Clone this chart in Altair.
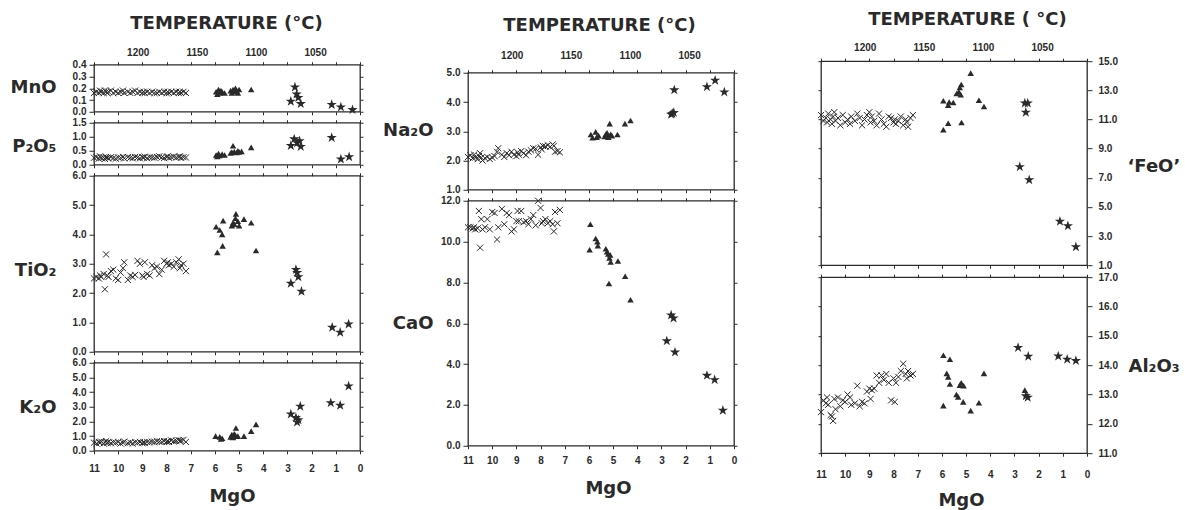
import altair as alt
import pandas as pd

FONT = "Liberation Sans"
TFONT = "DejaVu Sans"
INK = "#2a2a2a"
W = 266

CROSS_PATH = "M-1,-1L1,1M-1,1L1,-1"
STAR_PATH = ("M0,-1L0.225,-0.309L0.951,-0.309L0.363,0.118L0.588,0.809L0,0.382"
             "L-0.588,0.809L-0.363,0.118L-0.951,-0.309L-0.225,-0.309Z")

MGO_TICKS = [11, 10, 9, 8, 7, 6, 5, 4, 3, 2, 1, 0]
TEMP_LABELS = [1200, 1150, 1100, 1050]
TEMP_DOMAIN = [1237, 1012]

# MgO of the cross (x) samples, shared by all oxide panels
CROSS_MGO = [11.0, 10.9, 10.8, 10.75, 10.7, 10.6, 10.55, 10.5, 10.45, 10.4, 10.3, 10.2,
             10.1, 10.0, 9.9, 9.8, 9.75, 9.6, 9.5, 9.4, 9.3, 9.2, 9.1, 9.0, 8.95, 8.9,
             8.8, 8.7, 8.6, 8.5, 8.4, 8.3, 8.2, 8.1, 8.0, 7.95, 7.9, 7.8, 7.7, 7.6, 7.5,
             7.45, 7.4, 7.3, 7.2]

MNO_CROSS = [0.16, 0.17, 0.16, 0.18, 0.17, 0.16, 0.18, 0.17, 0.16, 0.17, 0.18, 0.16, 0.17,
             0.16, 0.17, 0.18, 0.16, 0.17, 0.16, 0.17, 0.18, 0.16, 0.17, 0.16, 0.17, 0.16,
             0.17, 0.16, 0.17, 0.16, 0.16, 0.17, 0.16, 0.17, 0.16, 0.17, 0.16, 0.17, 0.16,
             0.17, 0.16, 0.17, 0.16, 0.17, 0.16]
P2O5_CROSS = [0.25, 0.27, 0.22, 0.30, 0.24, 0.26, 0.21, 0.28, 0.25, 0.23, 0.27, 0.24, 0.22,
              0.26, 0.25, 0.28, 0.23, 0.27, 0.25, 0.24, 0.28, 0.26, 0.23, 0.27, 0.25, 0.29,
              0.24, 0.27, 0.26, 0.25, 0.28, 0.30, 0.26, 0.24, 0.28, 0.30, 0.25, 0.27, 0.29,
              0.26, 0.28, 0.30, 0.25, 0.27, 0.26]
TIO2_CROSS = [2.50, 2.55, 2.50, 2.60, 2.55, 2.65, 2.13, 3.32, 2.60, 2.55, 2.75, 2.80, 2.50,
              2.45, 2.70, 2.85, 3.05, 2.45, 2.60, 2.55, 2.62, 3.10, 3.00, 2.60, 2.55, 3.05,
              2.65, 2.60, 2.95, 2.85, 2.90, 2.65, 2.80, 3.10, 3.00, 3.05, 2.95, 3.00, 2.90,
              3.05, 3.15, 2.85, 2.95, 3.00, 2.75]
K2O_CROSS = [0.55, 0.50, 0.60, 0.55, 0.62, 0.50, 0.58, 0.65, 0.55, 0.60, 0.52, 0.58, 0.55,
             0.60, 0.50, 0.55, 0.62, 0.52, 0.56, 0.50, 0.58, 0.55, 0.60, 0.52, 0.57, 0.55,
             0.60, 0.58, 0.62, 0.60, 0.65, 0.62, 0.60, 0.66, 0.62, 0.65, 0.60, 0.70, 0.65,
             0.68, 0.72, 0.66, 0.70, 0.74, 0.60]
NA2O_CROSS = [2.12, 2.18, 2.08, 2.20, 2.10, 2.05, 2.15, 2.25, 2.10, 2.00, 2.08, 2.12, 2.05,
              2.10, 2.15, 2.30, 2.42, 2.20, 2.12, 2.25, 2.18, 2.30, 2.20, 2.15, 2.28, 2.20,
              2.32, 2.25, 2.18, 2.30, 2.35, 2.42, 2.40, 2.20, 2.45, 2.38, 2.50, 2.48, 2.52,
              2.47, 2.55, 2.50, 2.30, 2.32, 2.28]
CAO_CROSS = [10.7, 10.7, 10.65, 10.7, 10.6, 10.65, 11.5, 9.7, 11.1, 10.6, 10.7, 11.1, 10.6,
             11.45, 11.4, 10.1, 10.7, 11.6, 10.85, 11.4, 11.3, 10.5, 10.6, 11.0, 11.5, 11.0,
             11.5, 10.95, 11.0, 10.85, 11.1, 11.3, 10.8, 12.0, 11.65, 10.9, 11.0, 11.1, 10.9,
             11.0, 10.85, 10.5, 11.45, 10.9, 11.55]
FEO_CROSS = [11.3, 10.9, 11.1, 10.8, 11.4, 11.0, 10.7, 11.2, 11.5, 10.9, 11.1, 10.6, 11.3,
             10.8, 11.0, 10.7, 11.2, 10.9, 11.4, 11.1, 10.6, 11.0, 11.3, 11.5, 10.8, 11.2,
             10.9, 10.6, 11.4, 11.0, 10.7, 10.5, 11.2, 11.1, 10.8, 11.0, 10.7, 10.9, 11.2,
             10.6, 11.0, 10.8, 10.5, 11.1, 11.3]
AL2O3_CROSS = [12.4, 12.8, 12.7, 12.9, 12.65, 12.3, 12.25, 12.1, 12.85, 12.5, 12.9, 12.6,
               12.8, 12.75, 13.0, 12.9, 12.65, 12.7, 13.3, 12.6, 12.75, 12.7, 13.1, 13.2,
               12.85, 13.15, 13.2, 13.65, 13.4, 13.65, 13.5, 13.7, 13.4, 12.8, 13.55, 12.75,
               13.4, 13.6, 13.8, 14.05, 13.7, 13.55, 13.8, 13.65, 13.7]

# (MgO, oxide) pairs for triangles and stars
MNO_TRI = [(5.95, 0.17), (5.9, 0.15), (5.85, 0.19), (5.8, 0.16), (5.75, 0.18), (5.7, 0.17),
           (5.6, 0.16), (5.35, 0.18), (5.3, 0.16), (5.25, 0.19), (5.2, 0.17), (5.15, 0.20),
           (5.1, 0.18), (5.05, 0.16), (5.0, 0.19), (4.5, 0.19)]
P2O5_TRI = [(5.95, 0.35), (5.9, 0.30), (5.85, 0.40), (5.8, 0.33), (5.7, 0.38), (5.6, 0.35),
            (5.35, 0.42), (5.3, 0.45), (5.25, 0.68), (5.2, 0.47), (5.1, 0.44), (5.05, 0.50),
            (5.0, 0.46), (4.9, 0.48), (4.5, 0.62)]
TIO2_TRI = [(5.95, 4.26), (5.9, 3.39), (5.8, 4.15), (5.7, 4.0), (5.68, 3.61), (5.66, 4.47),
            (5.3, 4.3), (5.25, 4.4), (5.2, 4.35), (5.15, 4.55), (5.13, 4.7), (5.05, 4.45),
            (5.0, 4.3), (4.8, 4.52), (4.5, 4.4), (4.3, 3.45)]
K2O_TRI = [(5.97, 1.0), (5.8, 0.95), (5.75, 0.8), (5.7, 0.85), (5.35, 0.95), (5.3, 1.1),
           (5.25, 0.9), (5.2, 1.15), (5.15, 1.05), (5.13, 1.55), (5.05, 1.0), (4.8, 1.0),
           (4.5, 1.34), (4.3, 1.8)]
NA2O_TRI = [(5.92, 2.89), (5.85, 2.78), (5.72, 2.98), (5.68, 2.8), (5.6, 2.85), (5.35, 2.82),
            (5.3, 2.9), (5.25, 2.95), (5.2, 2.8), (5.14, 3.26), (5.1, 2.9), (5.05, 2.85),
            (4.82, 2.89), (4.51, 3.26), (4.28, 3.37)]
CAO_TRI = [(5.94, 10.85), (5.97, 9.6), (5.72, 10.15), (5.65, 10.0), (5.63, 9.8), (5.3, 9.65),
           (5.25, 9.5), (5.2, 9.4), (5.15, 9.2), (5.1, 9.0), (5.12, 9.35), (5.17, 7.95),
           (4.8, 9.05), (4.5, 8.3), (4.28, 7.15)]
FEO_TRI = [(5.94, 12.28), (5.94, 10.29), (5.74, 10.74), (5.74, 11.98), (5.7, 12.2),
           (5.53, 12.16), (5.39, 12.78), (5.3, 12.9), (5.26, 13.19), (5.2, 13.4), (5.22, 12.7),
           (5.19, 10.79), (4.81, 14.18), (4.47, 12.32), (4.26, 11.89)]
AL2O3_TRI = [(5.94, 14.34), (5.67, 14.2), (5.8, 13.72), (5.74, 13.6), (5.67, 13.36),
             (5.94, 12.62), (5.26, 13.32), (5.2, 13.4), (5.1, 13.3), (5.4, 13.0), (5.33, 12.92),
             (5.12, 12.75), (4.81, 12.45), (4.47, 12.72), (4.26, 13.72), (2.57, 13.15)]

MNO_STAR = [(2.86, 0.088), (2.69, 0.21), (2.62, 0.15), (2.55, 0.12), (2.45, 0.068),
            (1.17, 0.06), (0.79, 0.04), (0.31, 0.017)]
P2O5_STAR = [(2.86, 0.68), (2.72, 0.92), (2.6, 0.78), (2.5, 0.85), (2.45, 0.65),
             (1.17, 0.97), (0.79, 0.2), (0.45, 0.28)]
TIO2_STAR = [(2.86, 2.33), (2.65, 2.8), (2.6, 2.7), (2.55, 2.55), (2.42, 2.06),
             (1.15, 0.83), (0.82, 0.66), (0.47, 0.94)]
K2O_STAR = [(2.86, 2.5), (2.65, 2.25), (2.6, 1.95), (2.55, 2.1), (2.47, 3.02),
            (1.21, 3.27), (0.82, 3.09), (0.47, 4.41)]
NA2O_STAR = [(2.6, 3.58), (2.55, 3.6), (2.49, 3.64), (2.47, 4.41), (1.12, 4.52),
             (0.78, 4.74), (0.4, 4.34)]
CAO_STAR = [(2.78, 5.13), (2.6, 6.4), (2.5, 6.25), (2.44, 4.58), (1.12, 3.44),
            (0.8, 3.23), (0.46, 1.73)]
FEO_STAR = [(2.78, 7.75), (2.39, 6.85), (2.57, 12.12), (2.45, 12.12), (2.53, 11.48),
            (1.12, 4.0), (0.79, 3.7), (0.46, 2.25)]
AL2O3_STAR = [(2.85, 14.6), (2.43, 14.3), (2.53, 12.95), (2.45, 12.9), (1.19, 14.31),
              (0.82, 14.2), (0.46, 14.15)]


def xsc():
    return alt.Scale(domain=[11, 0], nice=False, zero=False)


def panel(label, cross_vals, tri, star, ydom, yvals, height, side="left",
          title_x=-38, title_y=20, top=None, bottom=None):
    ysc = alt.Scale(domain=ydom, nice=False, zero=False)
    cdf = pd.DataFrame({"mgo": CROSS_MGO, "val": cross_vals})
    tdf = pd.DataFrame(tri, columns=["mgo", "val"])
    sdf = pd.DataFrame(star, columns=["mgo", "val"])
    opp = "right" if side == "left" else "left"

    if bottom is not None:
        xaxis = alt.Axis(orient="bottom", values=MGO_TICKS, format="d", tickSize=3,
                         domain=False, grid=False, labelFlush=False, labelOverlap=False,
                         labelPadding=bottom["lp"], title="MgO", titlePadding=bottom["tp"],
                         titleFontSize=18, titleX=W / 2 + bottom["dx"], titleAlign="center")
    else:
        xaxis = alt.Axis(orient="bottom", values=MGO_TICKS, labels=False, tickSize=3,
                         domain=False, grid=False, title=None)

    yaxis = alt.Axis(orient=side, values=yvals, format=".1f", tickSize=5,
                     labelPadding=3 if side == "left" else 6, domain=False, grid=False,
                     labelOverlap=False, labelFlush=False, title=label, titleAngle=0,
                     titleX=title_x, titleY=title_y,
                     titleAlign="right" if side == "left" else "left",
                     titleBaseline="middle", titleFontSize=18)

    main = alt.Chart(cdf).mark_point(opacity=0).encode(
        x=alt.X("mgo:Q", scale=xsc(), axis=xaxis),
        y=alt.Y("val:Q", scale=ysc, axis=yaxis),
    )
    twin = alt.Chart(cdf).mark_point(opacity=0).encode(
        x=alt.X("mgo:Q", scale=xsc(), axis=alt.Axis(orient="top", values=MGO_TICKS, labels=False,
                                                     tickSize=3, domain=False, grid=False,
                                                     title=None)),
        y=alt.Y("val:Q", scale=ysc, axis=alt.Axis(orient=opp, values=yvals, labels=False,
                                                   tickSize=3, domain=False, grid=False,
                                                   title=None)),
    )
    layers = [main, twin]
    if top is not None:
        tempdf = pd.DataFrame({"temp": TEMP_LABELS})
        layers.append(alt.Chart(tempdf).mark_point(opacity=0).encode(
            x=alt.X("temp:Q", scale=alt.Scale(domain=TEMP_DOMAIN, nice=False, zero=False),
                    axis=alt.Axis(orient="top", values=TEMP_LABELS, format="d", ticks=False,
                                  tickSize=0, domain=False, grid=False, labelFlush=False,
                                  labelOverlap=False, labelPadding=top["lp"],
                                  title=top["title"], titlePadding=top["tp"],
                                  titleFontSize=18, titleX=W / 2 + top["dx"],
                                  titleAlign="center"))
        ))

    def enc():
        return dict(x=alt.X("mgo:Q", scale=xsc(), axis=None),
                    y=alt.Y("val:Q", scale=ysc, axis=None))

    layers.append(alt.Chart(cdf).mark_point(shape=CROSS_PATH, filled=False, stroke=INK,
                                            strokeWidth=1, size=38, opacity=1).encode(**enc()))
    layers.append(alt.Chart(tdf).mark_point(shape="triangle-up", filled=True, fill=INK,
                                            size=42, opacity=1).encode(**enc()))
    layers.append(alt.Chart(sdf).mark_point(shape=STAR_PATH, filled=True, fill=INK,
                                            size=115, opacity=1).encode(**enc()))
    return alt.layer(*layers).resolve_scale(x="independent", y="independent").properties(
        width=W, height=height)


mno = panel("MnO", MNO_CROSS, MNO_TRI, MNO_STAR, [0, 0.4], [0, 0.1, 0.2, 0.3, 0.4], 47,
            title_y=23, top={"lp": 7, "tp": 15, "title": "TEMPERATURE (°C)", "dx": -1})
p2o5 = panel("P₂O₅", P2O5_CROSS, P2O5_TRI, P2O5_STAR, [0, 1.5], [0, 0.5, 1.0, 1.5], 42,
             title_y=24)
tio2 = panel("TiO₂", TIO2_CROSS, TIO2_TRI, TIO2_STAR, [0, 6], [0, 1, 2, 3, 4, 5, 6], 176,
             title_y=95)
k2o = panel("K₂O", K2O_CROSS, K2O_TRI, K2O_STAR, [0, 6], [0, 1, 2, 3, 4, 5, 6], 88,
            title_y=45, bottom={"lp": 10, "tp": 14, "dx": 5})

na2o = panel("Na₂O", NA2O_CROSS, NA2O_TRI, NA2O_STAR, [1, 5], [1, 2, 3, 4, 5], 117,
             title_x=-35, title_y=58,
             top={"lp": 12, "tp": 16, "title": "TEMPERATURE (°C)", "dx": -2})
cao = panel("CaO", CAO_CROSS, CAO_TRI, CAO_STAR, [0, 12], [0, 2, 4, 6, 8, 10, 12], 245,
            title_x=-35, title_y=123, bottom={"lp": 7, "tp": 14, "dx": 7})

feo = panel("‘FeO’", FEO_CROSS, FEO_TRI, FEO_STAR, [1, 15],
            [1, 3, 5, 7, 9, 11, 13, 15], 204, side="right", title_x=40, title_y=105,
            top={"lp": 9, "tp": 14, "title": "TEMPERATURE ( °C)", "dx": 13})
al2o3 = panel("Al₂O₃", AL2O3_CROSS, AL2O3_TRI, AL2O3_STAR, [11, 17],
              [11, 12, 13, 14, 15, 16, 17], 176, side="right", title_x=41, title_y=89,
              bottom={"lp": 13, "tp": 12, "dx": 7})

left = alt.vconcat(mno, p2o5, tio2, k2o, spacing=-1)
mid = alt.vconcat(na2o, cao, spacing=-1)
right = alt.vconcat(feo, al2o3, spacing=0)

chart = alt.hconcat(alt.hconcat(left, mid, spacing=16, center=True), right, spacing=76,
                    center=True).properties(
    padding={"left": 9, "top": 9, "right": 0, "bottom": 0},
    background="white",
).configure_view(
    stroke=INK, strokeWidth=1.3,
).configure_axis(
    labelFont=FONT, labelFontSize=10, labelFontWeight="bold", labelColor=INK,
    titleFont=TFONT, titleFontWeight="bold", titleColor=INK, tickColor=INK, tickWidth=1,
)

chart.save("out.html", embed_options={"renderer": "svg", "actions": False})
